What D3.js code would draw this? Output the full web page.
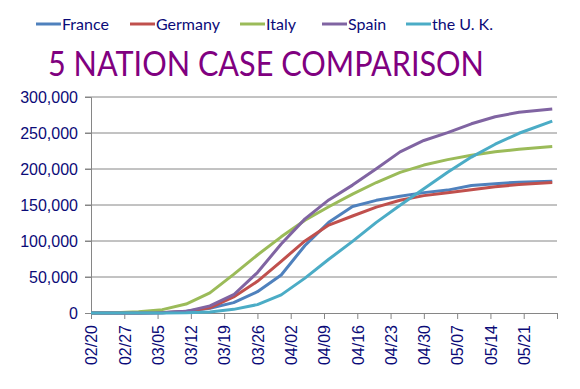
<!DOCTYPE html>
<html>
<head>
<meta charset="utf-8">
<script src="https://cdn.jsdelivr.net/npm/d3@7"></script>
<style>
  body { margin: 0; background: #fff; }
  svg { display: block; font-family: Lato, "Open Sans", sans-serif; }
</style>
</head>
<body>
<svg id="chart" width="580" height="389"></svg>
<script>
const dates = ["2020-02-20", "2020-02-25", "2020-03-01", "2020-03-06", "2020-03-11",
  "2020-03-16", "2020-03-21", "2020-03-26", "2020-03-31", "2020-04-05", "2020-04-10",
  "2020-04-15", "2020-04-20", "2020-04-25", "2020-04-30", "2020-05-05", "2020-05-10",
  "2020-05-15", "2020-05-20", "2020-05-27"];

const france = [12, 14, 130, 423, 2284, 6650, 14431, 29551, 52827, 93790, 125931,
  147969, 156480, 162220, 167178, 170694, 177094, 179630, 181700, 182913];
const germany = [16, 16, 130, 670, 1908, 7272, 22213, 43938, 71808, 100123, 122171,
  134753, 147065, 156513, 163009, 167007, 171324, 175233, 178473, 181200];
const italy = [3, 322, 1694, 4636, 12462, 27980, 53578, 80589, 105792, 128948, 147577,
  165155, 181228, 195351, 205463, 213013, 219070, 223885, 227364, 231139];
const spain = [2, 6, 84, 400, 2277, 9942, 25374, 56188, 95923, 130759, 157022,
  177633, 200210, 223759, 239639, 250561, 262783, 272646, 278803, 283339];
const uk = [9, 13, 36, 164, 459, 1543, 5067, 11658, 25150, 48436, 74605,
  99483, 125856, 149569, 172481, 195524, 216525, 234440, 249619, 266599];

const seriesNames = ["France", "Germany", "Italy", "Spain", "the U. K."];
const seriesValues = [france, germany, italy, spain, uk];
const seriesColors = ["#4F81BD", "#C0504D", "#9BBB59", "#8064A2", "#4BACC6"];

const yTicks = [0, 50000, 100000, 150000, 200000, 250000, 300000];
const xTickDates = ["2020-02-20", "2020-02-27", "2020-03-05", "2020-03-12", "2020-03-19",
  "2020-03-26", "2020-04-02", "2020-04-09", "2020-04-16", "2020-04-23", "2020-04-30",
  "2020-05-07", "2020-05-14", "2020-05-21", "2020-05-28"];

const svg = d3.select("#chart");
const textColor = "#0B0B78";
const gridColor = "#868686";
const parse = d3.timeParse("%Y-%m-%d");

const x = d3.scaleTime()
  .domain([parse("2020-02-20"), parse("2020-05-28")])
  .range([91, 557]);
const y = d3.scaleLinear()
  .domain([0, 300000])
  .range([313, 97]);

// gridlines
svg.append("g")
  .selectAll("line")
  .data(yTicks.slice(1))
  .join("line")
  .attr("x1", 85).attr("x2", 557)
  .attr("y1", d => y(d)).attr("y2", d => y(d))
  .attr("stroke", gridColor)
  .attr("stroke-width", 1);

// y axis
const yAxis = svg.append("g")
  .attr("transform", "translate(91,0)")
  .call(d3.axisLeft(y).tickValues(yTicks).tickFormat(d3.format(",")).tickSize(6).tickPadding(7));
yAxis.select(".domain").attr("stroke", gridColor);
yAxis.selectAll(".tick line").attr("stroke", gridColor);
yAxis.selectAll(".tick text")
  .attr("fill", textColor)
  .style("font-size", "16px")
  .attr("dy", "0.36em");

// x axis
const lastTick = xTickDates[xTickDates.length - 1];
const xAxis = svg.append("g")
  .attr("transform", "translate(0,313)")
  .call(d3.axisBottom(x)
    .tickValues(xTickDates.map(parse))
    .tickFormat(d => d3.timeFormat("%Y-%m-%d")(d) === lastTick ? "" : d3.timeFormat("%m/%d")(d))
    .tickSizeInner(6).tickSizeOuter(0));
xAxis.select(".domain").attr("stroke", gridColor).attr("d", "M85,0.5H557");
xAxis.selectAll(".tick line").attr("stroke", gridColor);
xAxis.selectAll(".tick text")
  .attr("fill", textColor)
  .style("font-size", "16px")
  .attr("text-anchor", "end")
  .attr("transform", "rotate(-90)")
  .attr("x", -12)
  .attr("y", 0)
  .attr("dy", "0.36em");

// lines
const line = d3.line()
  .x((d, i) => x(parse(dates[i])))
  .y(d => y(d));

svg.append("g")
  .selectAll("path")
  .data(seriesValues)
  .join("path")
  .attr("fill", "none")
  .attr("stroke", (d, i) => seriesColors[i])
  .attr("stroke-width", 3)
  .attr("stroke-linejoin", "round")
  .attr("d", line);

// legend
const legendX = [36, 130, 240, 322, 406];
const legend = svg.append("g")
  .selectAll("g")
  .data(seriesNames)
  .join("g")
  .attr("transform", (d, i) => `translate(${legendX[i]},24)`);
legend.append("line")
  .attr("x1", 0).attr("x2", 25)
  .attr("stroke", (d, i) => seriesColors[i])
  .attr("stroke-width", 3);
legend.append("text")
  .attr("x", 26)
  .attr("dy", "0.36em")
  .attr("fill", textColor)
  .style("font-size", "16px")
  .text(d => d);

// title
svg.append("text")
  .attr("x", 48)
  .attr("y", 76)
  .attr("fill", "#800080")
  .style("font-size", "34px")
  .attr("textLength", 436)
  .attr("lengthAdjust", "spacingAndGlyphs")
  .text("5 NATION CASE COMPARISON");
</script>
</body>
</html>
